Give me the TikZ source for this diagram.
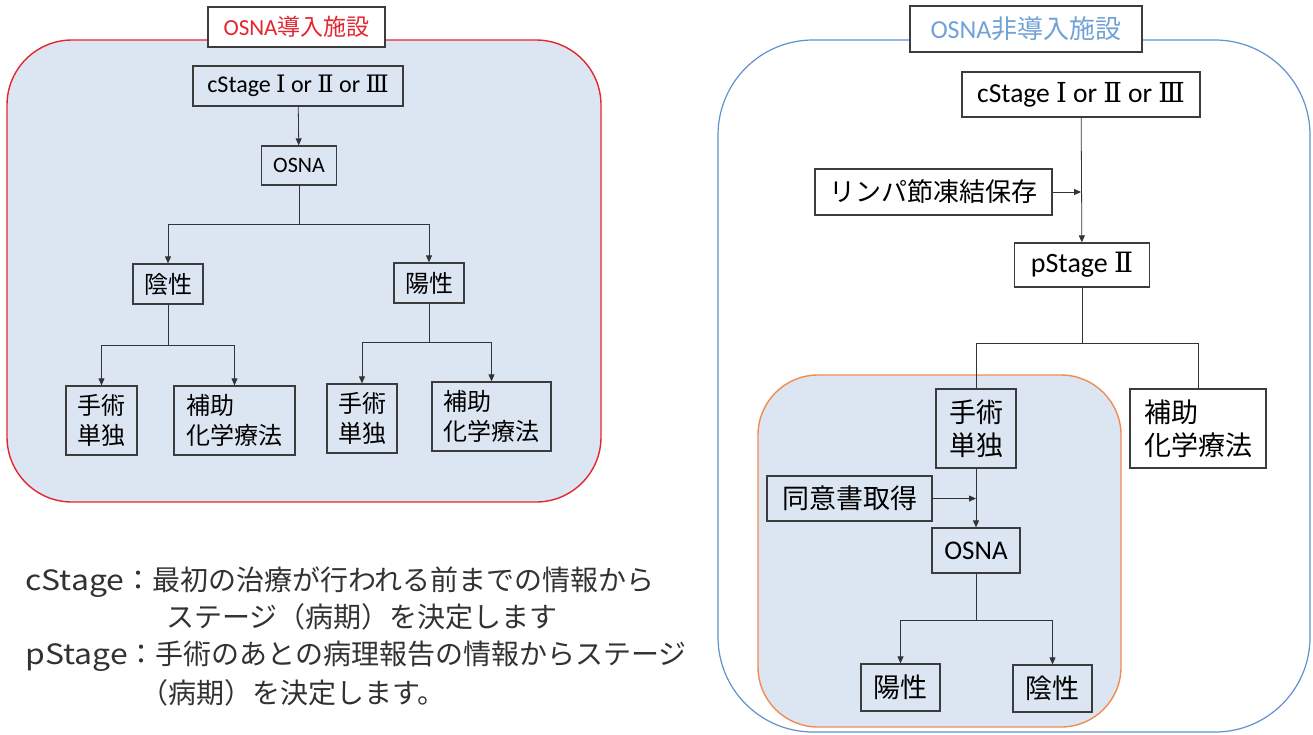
\documentclass[tikz,border=0pt]{standalone}
\usepackage{fontspec}
\setmainfont{Noto Sans CJK JP}
\newfontfamily\lat{Carlito}
\newfontfamily\rom{DejaVu Serif}
\usetikzlibrary{arrows.meta}

\definecolor{panelfill}{RGB}{220,230,242}
\definecolor{osnared}{RGB}{228,38,48}
\definecolor{osnablue}{RGB}{96,146,204}
\definecolor{titleblue}{RGB}{112,162,214}
\definecolor{innerorange}{RGB}{240,140,80}
\definecolor{boxline}{RGB}{60,60,60}
\definecolor{legendtext}{RGB}{50,50,50}

\newcommand\fsz[2]{\fontsize{#1}{#2}\selectfont}
\newcommand\stagetext{{\lat cStage} {\rom Ⅰ} {\lat or} {\rom Ⅱ} {\lat or} {\rom Ⅲ}}
\newcommand\widelat[1]{\scalebox{1.14}[1]{#1}}

\tikzset{every picture/.style={line width=0.75pt}}
\tikzset{
  box/.style={draw=boxline, line width=1.3pt, inner sep=0pt, align=center},
  wbox/.style={box, fill=white},
  arr/.style={draw=black!80, line width=0.8pt, -{Triangle[length=7pt,width=6pt]}},
  link/.style={draw=black!80, line width=0.8pt},
  legend/.style={anchor=west, inner sep=0pt, text=legendtext, font=\fsz{28}{32}},
}

\begin{document}
\begin{tikzpicture}[x=1pt,y=1pt,yscale=-1,xscale=1]
  \useasboundingbox (0,0) rectangle (1313,734);

  % left panel
  \draw [draw=osnared, fill=panelfill, line width=1.4pt, rounded corners=65pt] (7,40) rectangle (601,502);
  \node [wbox, minimum width=177pt, minimum height=40pt, text=osnared, font=\fsz{23}{28}] (ltitle) at (296.5,27) {{\lat OSNA}導入施設};

  \node [box, minimum width=210pt, minimum height=40pt, font=\fsz{24}{28}] (lcs) at (298,86) {\stagetext};
  \node [box, minimum width=75pt, minimum height=39pt, font=\lat\fsz{22}{26}] (losna) at (299,165.5) {OSNA};
  \node [box, minimum width=70pt, minimum height=40pt, font=\fsz{24}{30}] (lneg) at (168,284) {陰性};
  \node [box, minimum width=70pt, minimum height=40pt, font=\fsz{24}{30}] (lpos) at (429,283) {陽性};
  \node [box, minimum width=71pt, minimum height=69pt, font=\fsz{24}{30}] (lsurga) at (101.5,420.5) {手術\\単独};
  \node [box, minimum width=121pt, minimum height=69pt, align=left, font=\fsz{24}{30}] (lchema) at (234.5,420.5) {補助\\化学療法};
  \node [box, minimum width=70pt, minimum height=69pt, font=\fsz{24}{30}] (lsurgb) at (362,418.5) {手術\\単独};
  \node [box, minimum width=119pt, minimum height=69pt, align=left, font=\fsz{24}{30}] (lchemb) at (491.5,416.5) {補助\\化学療法};

  \coordinate (lsplit) at (299,224);
  \coordinate (lnegsplit) at (168,345);
  \coordinate (lpossplit) at (429,342);

  \draw [arr] (lcs) -- (losna);
  \draw [link] (losna) -- (lsplit);
  \draw [arr] (lsplit) -| (lneg);
  \draw [arr] (lsplit) -| (lpos);
  \draw [link] (lneg) -- (lnegsplit);
  \draw [arr] (lnegsplit) -| (lsurga);
  \draw [arr] (lnegsplit) -| (lchema);
  \draw [link] (lpos) -- (lpossplit);
  \draw [arr] (lpossplit) -| (lsurgb);
  \draw [arr] (lpossplit) -| (lchemb);

  % right panel
  \draw [draw=osnablue, fill=white, line width=1.2pt, rounded corners=95pt] (718,40) rectangle (1310,732);
  \node [wbox, minimum width=232pt, minimum height=46pt, text=titleblue, font=\fsz{26}{30}] (rtitle) at (1026,29) {{\lat OSNA}非導入施設};
  \draw [draw=innerorange, fill=panelfill, line width=1.4pt, rounded corners=60pt] (758,375) rectangle (1121,727);

  \node [wbox, minimum width=238pt, minimum height=45pt, font=\fsz{27.5}{30}] (rcs) at (1081,94.5) {\stagetext};
  \node [wbox, minimum width=237pt, minimum height=46pt, font=\fsz{26}{30}] (rfrz) at (933.5,192) {リンパ節凍結保存};
  \node [wbox, minimum width=135pt, minimum height=44pt, font=\fsz{28}{30}] (rps) at (1082,265) {{\lat pStage} {\rom Ⅱ}};
  \node [box, fill=panelfill, minimum width=80pt, minimum height=79pt, font=\fsz{27}{33}] (rsurg) at (976,428.5) {手術\\単独};
  \node [wbox, minimum width=136pt, minimum height=79pt, align=left, font=\fsz{27}{33}] (rchem) at (1198,428.5) {補助\\化学療法};
  \node [box, fill=panelfill, minimum width=165pt, minimum height=45pt, font=\fsz{27}{30}] (rcons) at (849.5,498.5) {同意書取得};
  \node [box, fill=panelfill, minimum width=88pt, minimum height=45pt, font=\lat\fsz{27}{30}] (rosna) at (976,550.5) {OSNA};
  \node [box, fill=panelfill, minimum width=79pt, minimum height=47pt, font=\fsz{27}{30}] (rpos) at (900.5,687.5) {陽性};
  \node [box, fill=panelfill, minimum width=79pt, minimum height=47pt, font=\fsz{27}{30}] (rneg) at (1052.5,688.5) {陰性};

  \coordinate (rsplit) at (1082,343);
  \coordinate (osplit) at (976,620);

  \draw [arr] (rcs) -- (rps);
  \draw [arr] (rfrz) -- (rfrz -| rcs);
  \draw [link] (rps) -- (rsplit);
  \draw [link] (rsplit) -| (rsurg);
  \draw [link] (rsplit) -| (rchem);
  \draw [arr] (rsurg) -- (rosna);
  \draw [arr] (rcons) -- (rcons -| rsurg);
  \draw [link] (rosna) -- (osplit);
  \draw [arr] (osplit) -| (rpos);
  \draw [arr] (osplit) -| (rneg);

  % legend
  \node [legend] (lgc1) at (25,582) {\widelat{cStage}：最初の治療が行われる前までの情報から};
  \node [legend] (lgc2) at (166,617) {ステージ（病期）を決定します};
  \node [legend] (lgp1) at (25,656) {\widelat{pStage}：手術のあとの病理報告の情報からステージ};
  \node [legend] (lgp2) at (140,693) {（病期）を決定します。};
\end{tikzpicture}
\end{document}
